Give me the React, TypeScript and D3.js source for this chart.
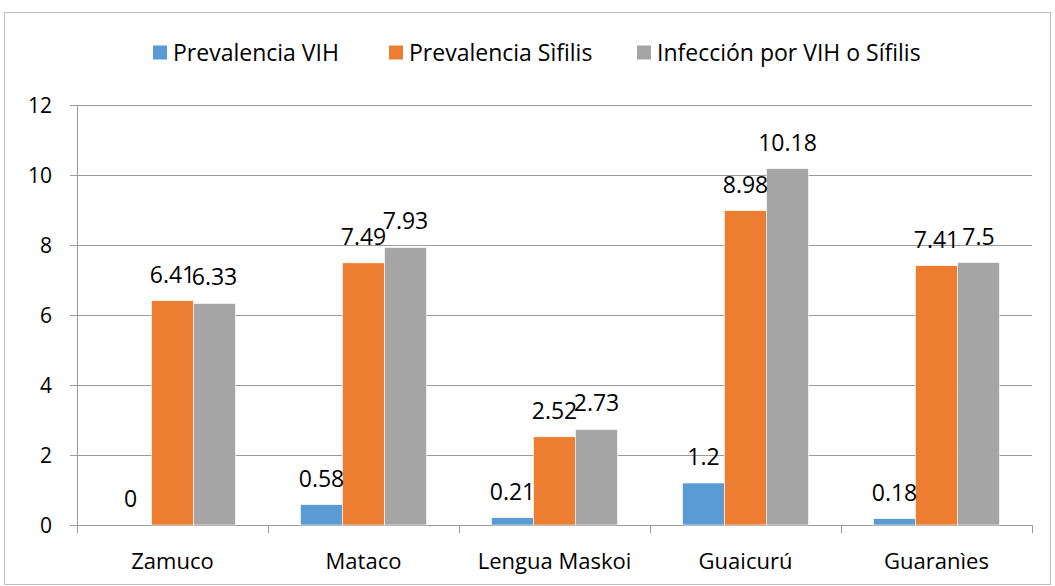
import React, { useEffect, useRef } from "react";
import * as d3 from "d3";

const categories = ["Zamuco", "Mataco", "Lengua Maskoi", "Guaicurú", "Guaranìes"];
const seriesNames = ["Prevalencia VIH", "Prevalencia Sìfilis", "Infección por VIH o Sífilis"];
const vih = [0, 0.58, 0.21, 1.2, 0.18];
const sifilis = [6.41, 7.49, 2.52, 8.98, 7.41];
const infeccion = [6.33, 7.93, 2.73, 10.18, 7.5];
const yTicks = [0, 2, 4, 6, 8, 10, 12];
const colors = ["#5B9BD5", "#ED7D31", "#A5A5A5"];

const FONT = "'Open Sans', sans-serif";

const App = () => {
  const ref = useRef<SVGSVGElement>(null);

  useEffect(() => {
    const width = 1055;
    const height = 586;
    const left = 77;
    const right = 1032;
    const top = 105;
    const bottom = 525;

    const svg = d3.select(ref.current);
    svg.selectAll("*").remove();

    // outer frame
    svg
      .append("rect")
      .attr("x", 4.5)
      .attr("y", 12.5)
      .attr("width", 1046)
      .attr("height", 572)
      .attr("fill", "white")
      .attr("stroke", "#bfbfbf");

    const x = d3.scaleBand().domain(categories).range([left, right]).padding(0);
    const inner = d3.scaleBand().domain(seriesNames).range([0, 126]).padding(0);
    const y = d3.scaleLinear().domain([0, 12]).range([bottom, top]);

    // gridlines
    svg
      .append("g")
      .selectAll("line")
      .data(yTicks)
      .join("line")
      .attr("x1", left - 7)
      .attr("x2", right)
      .attr("y1", (d) => Math.round(y(d)) + 0.5)
      .attr("y2", (d) => Math.round(y(d)) + 0.5)
      .attr("stroke", "#9a9a9a")
      .attr("stroke-width", 1);

    // y axis line
    svg
      .append("line")
      .attr("x1", left + 0.5)
      .attr("x2", left + 0.5)
      .attr("y1", top)
      .attr("y2", bottom + 8)
      .attr("stroke", "#9a9a9a");

    // y tick labels
    svg
      .append("g")
      .selectAll("text")
      .data(yTicks)
      .join("text")
      .attr("x", 52)
      .attr("y", (d) => y(d) + 8)
      .attr("text-anchor", "end")
      .attr("font-family", FONT)
      .attr("font-size", 21)
      .text((d) => d);

    // category ticks
    const boundaries = categories.map((c) => x(c) as number).concat([right]);
    svg
      .append("g")
      .selectAll("line")
      .data(boundaries.slice(1))
      .join("line")
      .attr("x1", (d) => Math.round(d) + 0.5)
      .attr("x2", (d) => Math.round(d) + 0.5)
      .attr("y1", bottom)
      .attr("y2", bottom + 8)
      .attr("stroke", "#9a9a9a");

    // category labels
    svg
      .append("g")
      .selectAll("text")
      .data(categories)
      .join("text")
      .attr("x", (d) => (x(d) as number) + x.bandwidth() / 2)
      .attr("y", 569)
      .attr("text-anchor", "middle")
      .attr("font-family", FONT)
      .attr("font-size", 22)
      .text((d) => d);

    const series = [vih, sifilis, infeccion];
    const offset = (x.bandwidth() - 126) / 2;

    series.forEach((vals, si) => {
      svg
        .append("g")
        .selectAll("rect")
        .data(vals)
        .join("rect")
        .attr("x", (_, i) => (x(categories[i]) as number) + offset + (inner(seriesNames[si]) as number))
        .attr("y", (d) => y(d))
        .attr("width", inner.bandwidth())
        .attr("height", (d) => bottom - y(d))
        .attr("fill", colors[si])
        .attr("stroke", "white")
        .attr("stroke-width", 0.6);
    });

    series.forEach((vals, si) => {
      svg
        .append("g")
        .selectAll("text")
        .data(vals)
        .join("text")
        .attr(
          "x",
          (_, i) =>
            (x(categories[i]) as number) + offset + (inner(seriesNames[si]) as number) + inner.bandwidth() / 2
        )
        .attr("y", (d) => y(d) - 18)
        .attr("text-anchor", "middle")
        .attr("font-family", FONT)
        .attr("font-size", 23)
        .text((d) => d);
    });

    // legend
    const legendX = [153, 389, 637];
    const leg = svg
      .append("g")
      .selectAll("g")
      .data(seriesNames)
      .join("g")
      .attr("transform", (_, i) => `translate(${legendX[i]},52.5)`);
    leg
      .append("rect")
      .attr("x", 0)
      .attr("y", -7)
      .attr("width", 14)
      .attr("height", 14)
      .attr("fill", (_, i) => colors[i]);
    leg
      .append("text")
      .attr("x", 20)
      .attr("y", 8)
      .attr("font-family", FONT)
      .attr("font-size", 23)
      .text((d) => d);

    svg.attr("viewBox", [0, 0, width, height]);
  }, []);

  return (
    <svg
      ref={ref}
      width={1055}
      height={586}
      style={{ position: "absolute", left: 0, top: 0, background: "white" }}
    ></svg>
  );
};

export default App;
